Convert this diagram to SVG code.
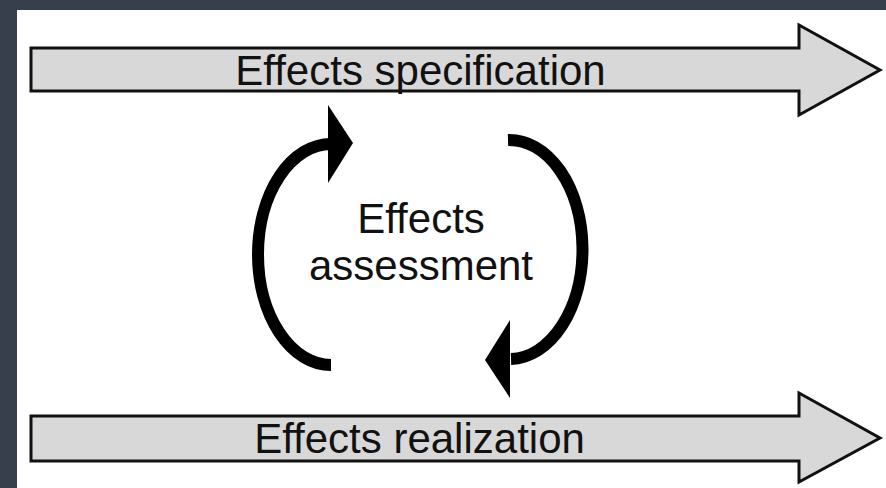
<svg xmlns="http://www.w3.org/2000/svg" width="886" height="488" viewBox="0 0 886 488">
  <style>
    .band { fill: #d8d8d8; stroke: #111; stroke-width: 3; stroke-linejoin: miter; }
    .label { font-family: "Liberation Sans", Arial, sans-serif; font-size: 42px; fill: #111; text-anchor: middle; }
    .loop { fill: none; stroke: #000; stroke-width: 12; }
    .head { fill: #000; }
  </style>
  <!-- frame -->
  <rect x="0" y="0" width="886" height="488" fill="#383f4c"/>
  <rect x="17" y="10" width="869" height="478" fill="#ffffff"/>

  <g id="spec">
    <polygon class="band" points="31,48 799,48 799,25 880,70 799,115 799,91 31,91"/>
    <text class="label" x="420.5" y="85">Effects specification</text>
  </g>

  <g id="realize">
    <polygon class="band" points="31,416 799,416 799,393 880,438 799,482 799,461 31,461"/>
    <text class="label" x="419.5" y="453">Effects realization</text>
  </g>

  <g id="assess">
    <text class="label" x="421" y="233">Effects</text>
    <text class="label" x="421" y="280">assessment</text>
  </g>

  <g id="connectors">
    <!-- upward loop on the left -->
    <path class="loop" d="M331,365 A73,110.5 0 0 1 331,144"/>
    <polygon class="head" points="328,105 353,143 328,183"/>
    <!-- downward loop on the right -->
    <path class="loop" d="M508,140 A73,109.5 0 0 1 511,359"/>
    <polygon class="head" points="510,320 485,360 510,398"/>
  </g>
</svg>
